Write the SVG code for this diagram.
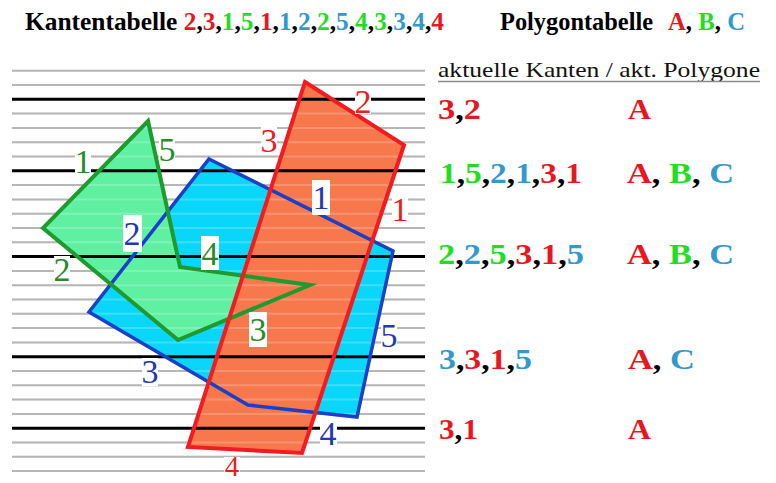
<svg xmlns="http://www.w3.org/2000/svg" width="776" height="483" viewBox="0 0 776 483">
<style>
text{font-family:"Liberation Serif","DejaVu Serif",serif}
.hdr{font-weight:bold;font-size:25px;fill:#000}
.row{font-weight:bold;font-size:30px;fill:#000}
.sub{font-size:21px;fill:#111}
.lbl{font-size:34px;text-anchor:middle}
.r{fill:#e8161e}.g{fill:#22dd22}.b{fill:#3399cc}
.gl{stroke:#a4a4a4;stroke-width:2}
.wl{stroke:#ffffff;stroke-width:2;opacity:0.2}
.bl{stroke:#000;stroke-width:3}
.box{fill:#fff}
.lr{fill:#e8201c}.lb{fill:#2238b0}.lg{fill:#2a8a2a}
</style>
<defs>
<g id="grid">
<line x1="12" x2="425" y1="70.7" y2="70.7"/><line x1="12" x2="425" y1="85" y2="85"/>
<line x1="12" x2="425" y1="113.6" y2="113.6"/><line x1="12" x2="425" y1="127.9" y2="127.9"/>
<line x1="12" x2="425" y1="142.2" y2="142.2"/><line x1="12" x2="425" y1="156.5" y2="156.5"/>
<line x1="12" x2="425" y1="185.1" y2="185.1"/><line x1="12" x2="425" y1="199.4" y2="199.4"/>
<line x1="12" x2="425" y1="213.7" y2="213.7"/><line x1="12" x2="425" y1="228" y2="228"/>
<line x1="12" x2="425" y1="242.3" y2="242.3"/><line x1="12" x2="425" y1="270.9" y2="270.9"/>
<line x1="12" x2="425" y1="285.2" y2="285.2"/><line x1="12" x2="425" y1="299.5" y2="299.5"/>
<line x1="12" x2="425" y1="313.8" y2="313.8"/><line x1="12" x2="425" y1="328.1" y2="328.1"/>
<line x1="12" x2="425" y1="342.4" y2="342.4"/><line x1="12" x2="425" y1="371" y2="371"/>
<line x1="12" x2="425" y1="385.3" y2="385.3"/><line x1="12" x2="425" y1="399.6" y2="399.6"/>
<line x1="12" x2="425" y1="413.9" y2="413.9"/><line x1="12" x2="425" y1="442.5" y2="442.5"/>
<line x1="12" x2="425" y1="456.8" y2="456.8"/><line x1="12" x2="425" y1="471.1" y2="471.1"/>
</g>
</defs>

<!-- header -->
<g id="kantentabelle">
<text class="hdr" x="25" y="30" textLength="419" lengthAdjust="spacingAndGlyphs">Kantentabelle <tspan class="r">2</tspan>,<tspan class="r">3</tspan>,<tspan class="g">1</tspan>,<tspan class="g">5</tspan>,<tspan class="r">1</tspan>,<tspan class="b">1</tspan>,<tspan class="b">2</tspan>,<tspan class="g">2</tspan>,<tspan class="b">5</tspan>,<tspan class="g">4</tspan>,<tspan class="g">3</tspan>,<tspan class="b">3</tspan>,<tspan class="b">4</tspan>,<tspan class="r">4</tspan></text>
</g>
<g id="polygontabelle">
<text class="hdr" x="500" y="30" textLength="153" lengthAdjust="spacingAndGlyphs">Polygontabelle</text>
<text class="hdr" x="668" y="30" textLength="77" lengthAdjust="spacingAndGlyphs"><tspan class="r">A</tspan>, <tspan class="g">B</tspan>, <tspan class="b">C</tspan></text>
</g>

<!-- scan lines under fills -->
<use href="#grid" class="gl"/>

<!-- polygon fills -->
<g id="fills">
<polygon id="fill-C" points="209,159 393,251 357,417 248,405 89,312" fill="#0ad6fa"/>
<polygon id="fill-B" points="148,121 180,267 310,285 178,340 43,228" fill="#60f0a2"/>
<polygon id="fill-A" points="305,82 404,145 302,453 188,447" fill="#f6784c"/>
</g>

<!-- light stripes over fills -->
<use href="#grid" class="wl"/>

<!-- black scan lines -->
<g id="blacklines" class="bl">
<line x1="12" x2="425" y1="99.3" y2="99.3"/>
<line x1="12" x2="425" y1="170.8" y2="170.8"/>
<line x1="12" x2="425" y1="256.6" y2="256.6"/>
<line x1="12" x2="425" y1="356.7" y2="356.7"/>
<line x1="12" x2="425" y1="428.2" y2="428.2"/>
</g>

<!-- polygon outlines -->
<g id="polygon-C">
<polygon points="209,159 393,251 357,417 248,405 89,312" fill="none" stroke="#1a40c8" stroke-width="3.5"/>
</g>
<g id="polygon-B">
<polygon points="148,121 180,267 310,285 178,340 43,228" fill="none" stroke="#1f9a2f" stroke-width="4"/>
</g>
<g id="polygon-A">
<polygon points="305,82 404,145 302,453 188,447" fill="none" stroke="#f01c22" stroke-width="4"/>
</g>

<!-- edge labels -->
<g id="labels-A">
<rect class="box" x="355" y="86" width="16" height="28"/><text class="lbl lr" x="363" y="113">2</text>
<rect class="box" x="261" y="125" width="16" height="30"/><text class="lbl lr" x="269" y="152">3</text>
<rect class="box" x="392" y="194" width="16" height="30"/><text class="lbl lr" x="400" y="221">1</text>
<rect class="box" x="224" y="457" width="16" height="26"/><text class="lbl lr" x="232" y="476" style="font-size:29px">4</text>
</g>
<g id="labels-C">
<rect class="box" x="312" y="180" width="18" height="35"/><text class="lbl lb" x="321" y="209">1</text>
<rect class="box" x="123" y="215" width="19" height="37"/><text class="lbl lb" x="132" y="245">2</text>
<rect class="box" x="142" y="358" width="16" height="28"/><text class="lbl lb" x="150" y="383">3</text>
<rect class="box" x="320" y="420" width="17" height="28"/><text class="lbl lb" x="328" y="445">4</text>
<rect class="box" x="381" y="321" width="16" height="28"/><text class="lbl lb" x="389" y="347">5</text>
</g>
<g id="labels-B">
<rect class="box" x="75" y="146" width="16" height="29"/><text class="lbl lg" x="83" y="173">1</text>
<rect class="box" x="159" y="136" width="16" height="26"/><text class="lbl lg" x="167" y="161">5</text>
<rect class="box" x="54" y="256" width="16" height="28"/><text class="lbl lg" x="62" y="281">2</text>
<rect class="box" x="201" y="236" width="18" height="34"/><text class="lbl lg" x="210" y="265">4</text>
<rect class="box" x="249" y="312" width="18" height="35"/><text class="lbl lg" x="258" y="341">3</text>
</g>

<!-- right-hand table -->
<g id="aktuelle-tabelle">
<text class="sub" x="438" y="77" textLength="322" lengthAdjust="spacingAndGlyphs">aktuelle Kanten / akt. Polygone</text>
<line x1="438" x2="760" y1="81.5" y2="81.5" stroke="#8a8a8a" stroke-width="1.5"/>
</g>
<g id="row1">
<text class="row" x="438" y="119" textLength="43" lengthAdjust="spacingAndGlyphs"><tspan class="r">3</tspan>,<tspan class="r">2</tspan></text>
<text class="row" x="628" y="119" textLength="23" lengthAdjust="spacingAndGlyphs"><tspan class="r">A</tspan></text>
</g>
<g id="row2">
<text class="row" x="440" y="183" textLength="142" lengthAdjust="spacingAndGlyphs"><tspan class="g">1</tspan>,<tspan class="g">5</tspan>,<tspan class="b">2</tspan>,<tspan class="b">1</tspan>,<tspan class="r">3</tspan>,<tspan class="r">1</tspan></text>
<text class="row" x="627" y="183" textLength="107" lengthAdjust="spacingAndGlyphs"><tspan class="r">A</tspan>, <tspan class="g">B</tspan>, <tspan class="b">C</tspan></text>
</g>
<g id="row3">
<text class="row" x="438" y="264" textLength="146" lengthAdjust="spacingAndGlyphs"><tspan class="g">2</tspan>,<tspan class="b">2</tspan>,<tspan class="g">5</tspan>,<tspan class="r">3</tspan>,<tspan class="r">1</tspan>,<tspan class="b">5</tspan></text>
<text class="row" x="627" y="264" textLength="107" lengthAdjust="spacingAndGlyphs"><tspan class="r">A</tspan>, <tspan class="g">B</tspan>, <tspan class="b">C</tspan></text>
</g>
<g id="row4">
<text class="row" x="439" y="369" textLength="93" lengthAdjust="spacingAndGlyphs"><tspan class="b">3</tspan>,<tspan class="r">3</tspan>,<tspan class="r">1</tspan>,<tspan class="b">5</tspan></text>
<text class="row" x="628" y="369" textLength="67" lengthAdjust="spacingAndGlyphs"><tspan class="r">A</tspan>, <tspan class="b">C</tspan></text>
</g>
<g id="row5">
<text class="row" x="439" y="439" textLength="39" lengthAdjust="spacingAndGlyphs"><tspan class="r">3</tspan>,<tspan class="r">1</tspan></text>
<text class="row" x="628" y="439" textLength="23" lengthAdjust="spacingAndGlyphs"><tspan class="r">A</tspan></text>
</g>
</svg>
